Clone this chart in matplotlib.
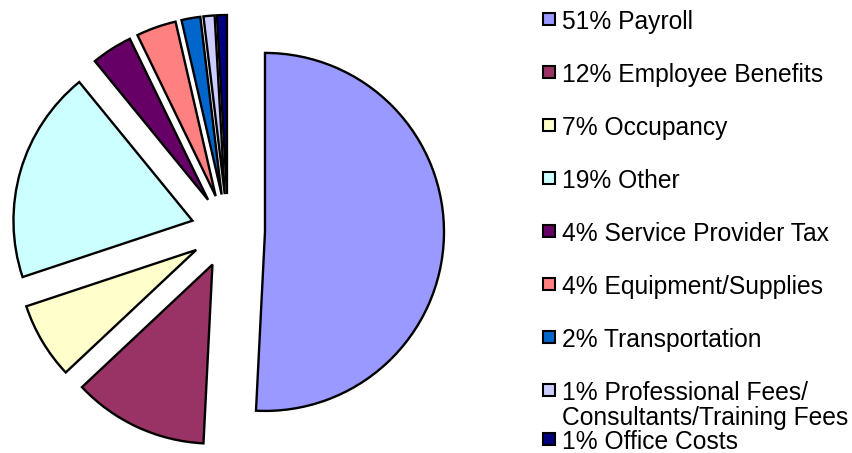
import matplotlib.pyplot as plt
from matplotlib.patches import Rectangle

plt.rcParams['font.family'] = ['Liberation Sans', 'DejaVu Sans']

categories = ['Payroll', 'Employee Benefits', 'Occupancy', 'Other',
              'Service Provider Tax', 'Equipment/Supplies', 'Transportation',
              'Professional Fees/\nConsultants/Training Fees', 'Office Costs']
shares = [50.8, 12.2, 6.9, 19.2, 3.7, 3.6, 1.7, 1.0, 0.9]
colors = ['#9999FF', '#993366', '#FFFFCC', '#CCFFFF', '#660066',
          '#FF8080', '#0066CC', '#CCCCFF', '#000080']

W, H = 852, 453
fig = plt.figure(figsize=(W / 100, H / 100), dpi=100)
ax = fig.add_axes([0, 0, 1, 1])

# explode is in data units here since radius is given in pixels
ax.pie(shares, colors=colors, startangle=90, counterclock=False,
       explode=[37] * len(shares), center=(228, H - 231), radius=179,
       wedgeprops=dict(edgecolor='black', linewidth=1.7))

# legend drawn by hand to follow the original layout
legend_y = [19 + 53 * i for i in range(8)] + [439]
for lab, s, col, y in zip(categories, shares, colors, legend_y):
    ax.add_patch(Rectangle((543, H - y - 6), 12, 12, facecolor=col,
                           edgecolor='black', linewidth=1.5))
    ax.text(562, H - y + 9, f'{s:.0f}% {lab}', fontsize=17.7,
            va='top', ha='left', linespacing=1.05)

ax.set_xlim(0, W)
ax.set_ylim(0, H)
ax.set_aspect('equal')
ax.axis('off')

fig.savefig('out.png', dpi=100)
